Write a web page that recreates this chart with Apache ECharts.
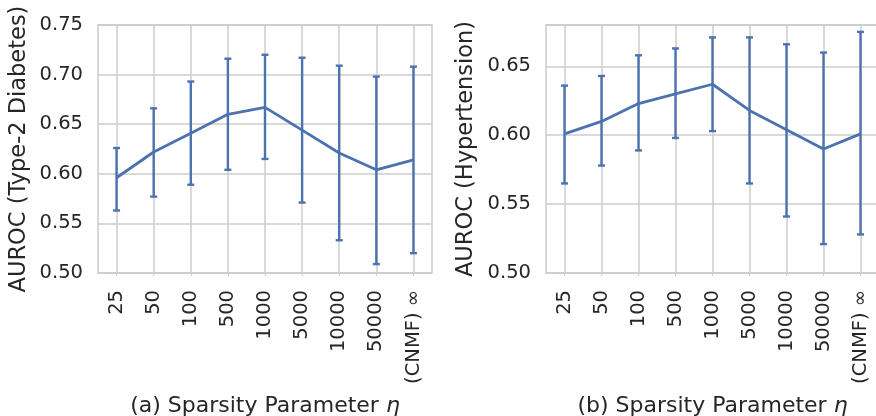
<!DOCTYPE html>
<html>
<head>
<meta charset="utf-8">
<script src="https://cdn.jsdelivr.net/npm/echarts@6/dist/echarts.min.js"></script>
<style>
  html, body { margin: 0; padding: 0; background: #fff; }
  #chart { width: 876px; height: 416px; }
</style>
</head>
<body>
<div id="chart"></div>
<script>
const categories = ["25", "50", "100", "500", "1000", "5000", "10000", "50000", "(CNMF) \u221e"];

// (a) Type-2 Diabetes
const diabetesMean = [0.596, 0.622, 0.641, 0.660, 0.667, 0.644, 0.621, 0.604, 0.614];
const diabetesLow = [0.563, 0.577, 0.589, 0.604, 0.615, 0.571, 0.533, 0.509, 0.520];
const diabetesHigh = [0.626, 0.666, 0.693, 0.716, 0.720, 0.717, 0.709, 0.698, 0.708];

// (b) Hypertension
const hyperMean = [0.601, 0.610, 0.623, 0.630, 0.637, 0.618, 0.604, 0.590, 0.601];
const hyperLow = [0.565, 0.578, 0.589, 0.598, 0.603, 0.565, 0.541, 0.521, 0.528];
const hyperHigh = [0.636, 0.643, 0.658, 0.663, 0.671, 0.671, 0.666, 0.660, 0.675];

const BLUE = "#4c72b0";
const TEXT = "#262626";
const GRIDC = "#cccccc";
const FONT = "DejaVu Sans";

const chart = echarts.init(document.getElementById("chart"));

const errData = (lo, hi) => lo.map((v, i) => [i, v, hi[i]]);

function renderErr(params, api) {
  const x = api.value(0);
  const lo = api.coord([x, api.value(1)]);
  const hi = api.coord([x, api.value(2)]);
  const w = 3.5;
  const style = { stroke: BLUE, lineWidth: 2.4 };
  return {
    type: "group",
    children: [
      { type: "line", shape: { x1: lo[0], y1: lo[1], x2: hi[0], y2: hi[1] }, style },
      { type: "line", shape: { x1: lo[0] - w, y1: lo[1], x2: lo[0] + w, y2: lo[1] }, style },
      { type: "line", shape: { x1: hi[0] - w, y1: hi[1], x2: hi[0] + w, y2: hi[1] }, style },
    ],
  };
}

const xAxisBase = (idx, title) => ({
  type: "category",
  gridIndex: idx,
  data: categories,
  boundaryGap: true,
  name: title,
  nameLocation: "middle",
  nameGap: 122,
  nameTextStyle: {
    fontFamily: FONT,
    fontSize: 22,
    color: TEXT,
    rich: { i: { fontFamily: FONT, fontSize: 22, fontStyle: "italic", color: TEXT } },
  },
  axisLine: { show: false },
  axisTick: { show: true, alignWithLabel: true, length: 3, lineStyle: { color: GRIDC } },
  axisLabel: { rotate: 90, margin: 17, fontFamily: FONT, fontSize: 19.5, color: TEXT, interval: 0 },
  splitLine: { show: true, alignWithLabel: true, lineStyle: { color: GRIDC, width: 1.5 } },
});

const yAxisBase = (idx, max, title, gap) => ({
  type: "value",
  gridIndex: idx,
  min: 0.5,
  max: max,
  interval: 0.05,
  name: title,
  nameLocation: "middle",
  nameGap: gap,
  nameTextStyle: { fontFamily: FONT, fontSize: 22.5, color: TEXT },
  axisLine: { show: false },
  axisTick: { show: false },
  axisLabel: {
    margin: 15,
    fontFamily: FONT,
    fontSize: 19.5,
    color: TEXT,
    showMaxLabel: max === 0.75,
    formatter: (v) => v.toFixed(2),
  },
  splitLine: { show: true, lineStyle: { color: GRIDC, width: 1.5 } },
});

const option = {
  animation: false,
  backgroundColor: "#fff",
  grid: [
    { left: 98, top: 25, width: 334, height: 248, outerBoundsMode: "none", show: true, borderColor: GRIDC, borderWidth: 1.5 },
    { left: 546, top: 25, width: 333, height: 248, outerBoundsMode: "none", show: true, borderColor: GRIDC, borderWidth: 1.5 },
  ],
  xAxis: [
    xAxisBase(0, "(a) Sparsity Parameter {i|\u03b7}"),
    xAxisBase(1, "(b) Sparsity Parameter {i|\u03b7}"),
  ],
  yAxis: [
    yAxisBase(0, 0.75, "AUROC (Type-2 Diabetes)", 67),
    yAxisBase(1, 0.68, "AUROC (Hypertension)", 68),
  ],
  series: [
    {
      type: "line",
      xAxisIndex: 0,
      yAxisIndex: 0,
      data: diabetesMean,
      showSymbol: false,
      lineStyle: { color: BLUE, width: 2.8 },
      z: 3,
    },
    {
      type: "custom",
      xAxisIndex: 0,
      yAxisIndex: 0,
      data: errData(diabetesLow, diabetesHigh),
      encode: { x: 0, y: [1, 2] },
      renderItem: renderErr,
      z: 2,
    },
    {
      type: "line",
      xAxisIndex: 1,
      yAxisIndex: 1,
      data: hyperMean,
      showSymbol: false,
      lineStyle: { color: BLUE, width: 2.8 },
      z: 3,
    },
    {
      type: "custom",
      xAxisIndex: 1,
      yAxisIndex: 1,
      data: errData(hyperLow, hyperHigh),
      encode: { x: 0, y: [1, 2] },
      renderItem: renderErr,
      z: 2,
    },
  ],
};

chart.setOption(option);
</script>
</body>
</html>
